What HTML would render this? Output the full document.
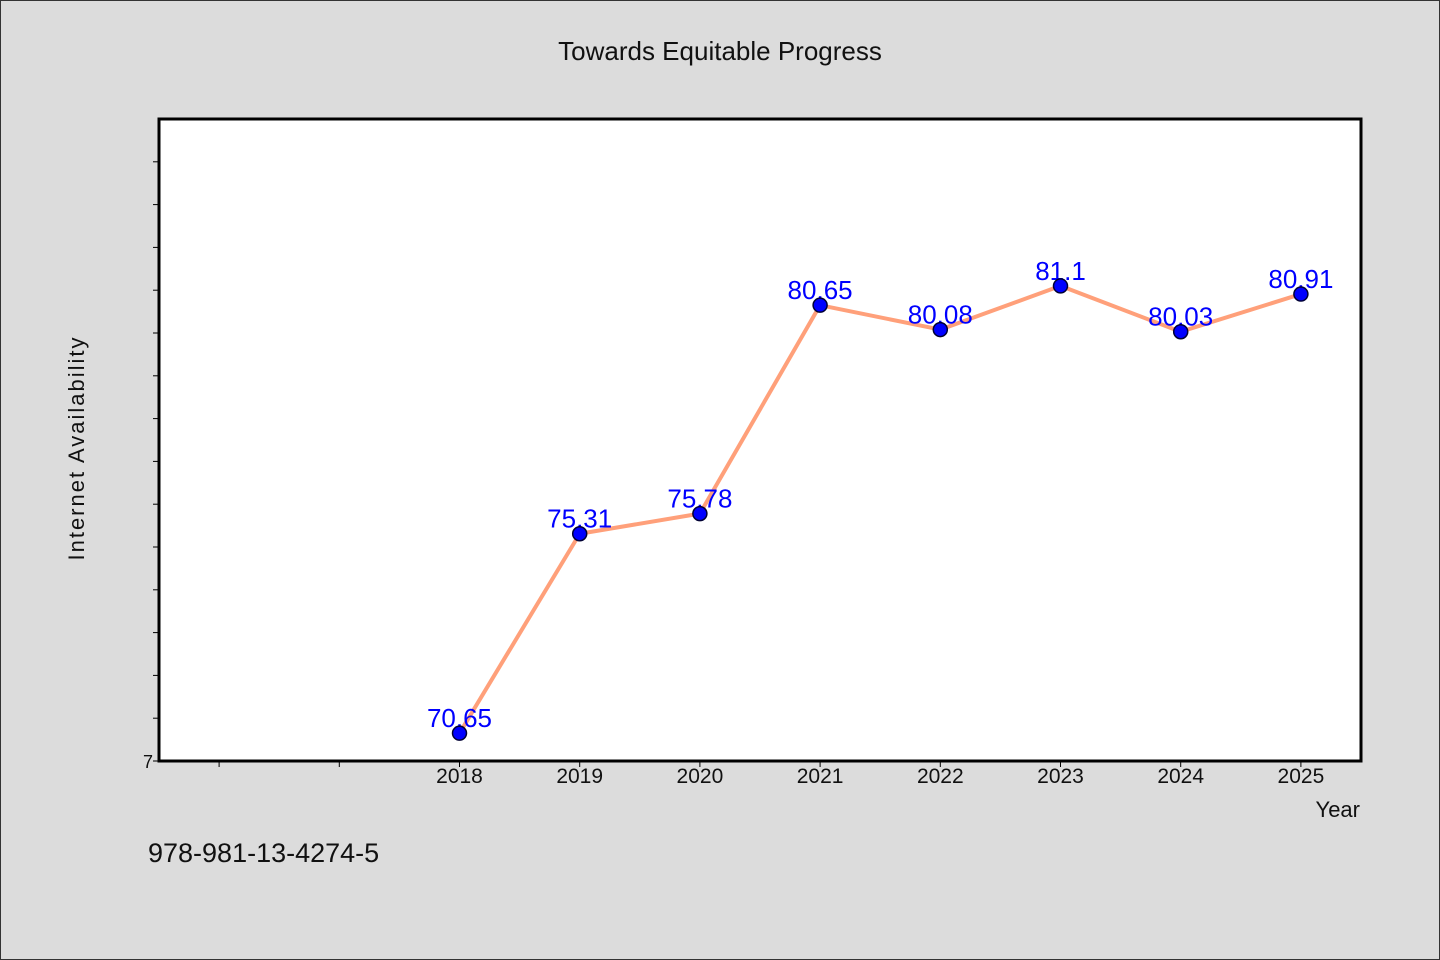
<!DOCTYPE html>
<html><head><meta charset="utf-8"><style>
html,body{margin:0;padding:0;background:#dcdcdc;}
svg{display:block;font-family:"WenQuanYi Zen Hei","Liberation Sans",sans-serif;}
</style></head><body>
<svg id="chart" width="1440" height="960" xmlns="http://www.w3.org/2000/svg">
<rect x="0.5" y="0.5" width="1439" height="959" fill="#dcdcdc" stroke="#333"/>
<text x="720" y="60" text-anchor="middle" font-size="26" fill="#111">Towards Equitable Progress</text>
<rect x="159" y="119" width="1202" height="642" fill="#fff" stroke="#000" stroke-width="3"/>
<g id="yticks"></g>
<g id="xticks"></g>
<text x="0" y="0" transform="translate(84,448) rotate(-90)" text-anchor="middle" font-size="22" fill="#111" letter-spacing="2">Internet Availability</text>
<text x="1360" y="817" text-anchor="end" font-size="22" fill="#111">Year</text>
<text x="148" y="862" font-size="27" fill="#111">978-981-13-4274-5</text>
<g id="series"></g>
</svg>
<script>
const years = [2018, 2019, 2020, 2021, 2022, 2023, 2024, 2025];
const values = [70.65, 75.31, 75.78, 80.65, 80.08, 81.1, 80.03, 80.91];
const valueLabels = ["70.65", "75.31", "75.78", "80.65", "80.08", "81.1", "80.03", "80.91"];
const xTickYears = [2016, 2017, 2018, 2019, 2020, 2021, 2022, 2023, 2024, 2025];
const yMin = 70, yMax = 85, xMin = 2015.5, xMax = 2025.5;
const L = 159, R = 1361, T = 119, B = 761;
const NS = "http://www.w3.org/2000/svg";
function sx(v){ return L + (v - xMin) / (xMax - xMin) * (R - L); }
function sy(v){ return B - (v - yMin) / (yMax - yMin) * (B - T); }
function mk(tag, attrs, parent){ const e = document.createElementNS(NS, tag); for (const k in attrs) e.setAttribute(k, attrs[k]); parent.appendChild(e); return e; }
const yg = document.getElementById('yticks');
for (let v = yMin; v < yMax; v++) {
  const t = mk('line', {x1: L - 6, x2: L, y1: sy(v), y2: sy(v), stroke: '#000', 'stroke-width': 1}, yg);
  
  
}
const y0 = mk('text', {x: 153, y: sy(yMin) + 7, 'text-anchor': 'end', 'font-size': 18, fill: '#111'}, yg);
y0.textContent = '7';


const xg = document.getElementById('xticks');
xTickYears.forEach(yr => {
  const t = mk('line', {x1: sx(yr), x2: sx(yr), y1: B, y2: B + 6, stroke: '#000', 'stroke-width': 1}, xg);
  
  
  if (years.includes(yr)) {
    const lb = mk('text', {x: sx(yr), y: B + 22, 'text-anchor': 'middle', 'font-size': 21, fill: '#111'}, xg);
    lb.textContent = String(yr);
    
    
  }
});
const sg = document.getElementById('series');
const pts = years.map((y, i) => sx(y) + ',' + sy(values[i])).join(' ');
const pl = mk('polyline', {points: pts, fill: 'none', stroke: '#ffa07a', 'stroke-width': 4, 'stroke-linejoin': 'round'}, sg);


years.forEach((y, i) => {
  const lb = mk('text', {x: sx(y), y: sy(values[i]) - 6, 'text-anchor': 'middle', 'font-size': 26, fill: '#0000ff'}, sg);
  lb.textContent = valueLabels[i];
  
  
});
years.forEach((y, i) => {
  const c = mk('circle', {cx: sx(y), cy: sy(values[i]), r: 7, fill: '#0000ff', stroke: '#000033', 'stroke-width': 1.5}, sg);
  
  
});
</script>
</body></html>
